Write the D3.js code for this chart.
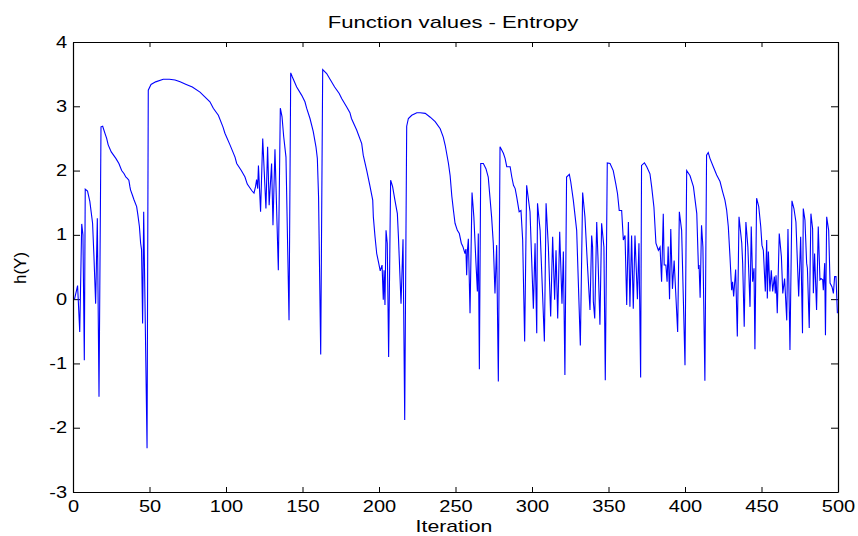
<!DOCTYPE html>
<html>
<head>
<meta charset="utf-8">
<script src="https://cdn.jsdelivr.net/npm/d3@7"></script>
<style>
  body { margin: 0; background: #fff; }
  svg { display: block; }
  text { font-family: "Liberation Sans", Arial, sans-serif; fill: #000; }
</style>
</head>
<body>
<svg id="chart" width="858" height="536"></svg>
<script>
// iteration number and h(Y) value
const iterations = [
  1, 3, 4.4, 5.7, 6.5, 7.4, 8, 9.5, 11, 12.8, 13.7, 14.8, 15.9, 17, 18.3, 19.4,
  21, 22, 23, 25, 28, 30, 31.8, 33.4, 34.5, 35.5, 36.5, 37.2, 37.6, 38.8, 39.8,
  41.6, 42.4, 43.4, 44.2, 44.8, 45.5, 46.2, 48.4, 49.2, 51, 54, 59, 63, 66.7,
  70, 74, 78, 83, 86, 89.5, 91.7, 95, 98, 99.3, 102.6, 105.9, 107, 110, 112.4,
  113.9, 116.8, 118.3, 119.3, 120, 120.7, 121.2, 122.6, 124, 126.1, 127.2,
  128.2, 129.8, 130.7, 132, 134.2, 135.5, 136.6, 137.7, 139.2, 141.2, 142.3,
  143.3, 146.2, 149.5, 151.6, 152.7, 154.9, 157, 158.8, 159.7, 160.5, 161.9,
  163.2, 165.8, 168, 171, 174, 175.6, 178.9, 181, 182, 185.4, 188.7, 189.7,
  192, 194, 195.9, 196.3, 197.4, 198.5, 199.8, 200.8, 202, 202.8, 203.3, 203.9,
  204.6, 205.4, 206.3, 207.6, 208.9, 210.4, 212, 212.7, 214.4, 215.7, 216.8,
  218.1, 219.2, 221.4, 224.7, 226.9, 230.2, 233.5, 236.7, 240, 242, 243.3,
  245.4, 246.5, 247.6, 248.6, 249.7, 251.2, 252.5, 253.8, 254.8, 256.2, 256.8,
  257.3, 257.8, 258.4, 259.5, 260.8, 262, 263.4, 264.3, 264.9, 265.6, 266.5,
  268.2, 269.9, 271.4, 272.5, 273.6, 274.7, 275.8, 276.9, 278, 279.1, 281.3,
  282.4, 283.5, 285.7, 286.8, 287.9, 289, 290, 291.6, 292.8, 293.9, 295.2,
  296.5, 298.7, 300.9, 302, 303.1, 303.6, 305.3, 308.1, 309.2, 310.7, 312.2,
  313.5, 314.8, 315.7, 316.8, 318.1, 319.6, 320.5, 321.5, 322.6, 324.4, 325.3,
  327, 329.2, 331.6, 333.1, 334.6, 336.2, 337.9, 339, 339.6, 340.1, 341, 342.3,
  343.1, 344.4, 345.5, 347, 347.9, 349.2, 351, 353.1, 354.8, 355.9, 357, 358.6,
  359.7, 360.8, 361.9, 363, 364, 365.1, 366.2, 367.3, 368.9, 369.9, 371, 371.6,
  373.5, 375, 377.1, 378.2, 379.7, 381, 382.6, 383.7, 384.7, 385.8, 386.4,
  387.5, 388.3, 389, 389.9, 390.7, 391.8, 392.9, 395.2, 396.3, 397.8, 400,
  401.1, 403.3, 405.5, 407.7, 408.8, 409.2, 409.9, 410.8, 411.7, 413, 414.1,
  415.2, 416.3, 418.5, 420.7, 422.9, 424.6, 426.1, 427.2, 428.3, 429.4, 430.5,
  431.1, 431.8, 433.1, 434.2, 435.3, 437.1, 437.7, 438.7, 439.8, 441.1, 442.5,
  443.3, 444.2, 445.1, 445.7, 446.8, 448.2, 449.5, 450.3, 451.2, 452.5, 453.4,
  453.8, 454.5, 455.5, 456.4, 457.3, 458.4, 459, 459.5, 460.3, 461.6, 463,
  463.9, 465.1, 466.5, 467.3, 468.6, 469.9, 471.2, 472.5, 474.3, 475.6, 476.8,
  477.3, 478.4, 479.5, 480, 481.2, 482.3, 483.4, 483.9, 484.7, 486, 487.1,
  488.2, 488.9, 490, 490.4, 491.3, 491.8, 492.6, 493.9, 494.8, 496.1, 497,
  497.8, 498.7, 499.6
];

const hY = [
  0.0, 0.21, -0.51, 1.17, 1.0, -0.95, 1.71, 1.68, 1.52, 1.18, 0.66, -0.07, 1.26, -1.52, 2.68, 2.69,
  2.57, 2.5, 2.4, 2.29, 2.19, 2.11, 2.0, 1.95, 1.9, 1.88, 1.85, 1.75, 1.7, 1.62, 1.55,
  1.44, 1.31, 1.13, 0.87, 0.77, -0.38, 1.36, -2.32, 3.25, 3.34, 3.38, 3.42, 3.42, 3.41,
  3.38, 3.34, 3.3, 3.22, 3.15, 3.07, 2.97, 2.86, 2.68, 2.58, 2.4, 2.21, 2.11, 2.0, 1.9,
  1.79, 1.69, 1.65, 1.75, 1.86, 1.72, 2.08, 1.36, 2.5, 1.41, 2.37,
  1.46, 2.11, 1.15, 2.33, 0.45, 2.97, 2.84, 2.53, 2.21, -0.33, 3.52,
  3.46, 3.3, 3.17, 3.07, 2.97, 2.81, 2.61, 2.37, 2.19, 1.59, -0.86,
  3.57, 3.51, 3.42, 3.3, 3.2, 3.12, 2.99, 2.9, 2.81, 2.63, 2.42, 2.24,
  2.0, 1.77, 1.54, 1.28, 0.97, 0.71, 0.56, 0.44, 0.53, -0.01, 0.45, -0.09,
  1.07, 0.87, -0.9, 1.85, 1.75, 1.54, 1.33, 0.97, -0.07, 0.93, -1.88,
  2.69, 2.81, 2.86, 2.9, 2.9, 2.89, 2.83, 2.76, 2.65, 2.52, 2.39,
  2.11, 1.92, 1.6, 1.39, 1.18, 1.07, 1.02, 0.87, 0.82, 0.71, 0.78,
  0.37, 0.76, 0.94, -0.22, 1.66, 1.28, 0.55, 0.12, 1.02, -1.09, 2.11,
  2.11, 2.03, 1.9, 1.59, 1.28, 0.87, 0.09, 0.84, -1.28, 2.37, 2.27,
  2.19, 2.06, 2.06, 1.9, 1.77, 1.72, 1.59, 1.36, 1.38, 0.92, -0.66,
  1.77, 1.36, -0.15, 0.87, -0.53, 1.49, 1.07, -0.66, 1.49, 0.81, -0.27,
  0.97, -0.01, 0.76, -0.3, 1.05, -0.07, 0.74, -1.18, 1.9, 1.94, 1.83,
  1.54, 1.07, -0.72, 1.66, 1.28, 0.55, -0.17, 0.99, 0.81, -0.04, -0.3, 1.2,
  0.66, -0.4, 1.18, 0.81, -1.26, 2.12, 2.11, 2.0, 1.79, 1.64, 1.38, 1.38,
  0.92, 0.99, -0.09, 1.2, -0.12, 0.99, -0.15, 0.99, 0.0, 0.87, -1.22, 2.08,
  2.12, 2.06, 1.95, 1.75, 1.43, 0.87, 0.76, 0.81, 0.27, 1.33, 0.53,
  0.53, 0.27, 0.82, 0.0, 1.09, 0.16, 0.6, -0.51, 1.36, 1.07, -1.03,
  2.0, 1.92, 1.75, 1.33, 0.47, 0.53, 0.02, 1.15, 0.81, -1.27, 2.24,
  2.28, 2.19, 2.06, 1.93, 1.83, 1.67, 1.54, 1.39, 1.13, 0.66, 0.14,
  0.27, 0.04, 0.46, -0.58, 1.28, 0.87, 0.55, -0.43, 1.2, 0.81, -0.12,
  1.13, 0.27, 0.48, -0.78, 1.57, 1.44, 1.13, 0.84, 0.76, 0.12, 0.92,
  0.01, 0.74, 0.12, 0.45, 0.12, 0.35, 0.09, 0.37, -0.22, 1.02, 0.66,
  0.09, 0.32, -0.33, 1.09, -0.79, 1.53, 1.41, 1.2, 0.04, 0.97, -0.53,
  1.41, 1.23, 0.56, 0.48, -0.45, 1.33, 1.1, 0.09, 0.71, -0.17, 1.13,
  0.3, 0.32, 0.3, 0.14, 0.56, -0.56, 1.28, 1.07, 0.25, 0.19, 0.09,
  0.35, 0.35, -0.22
];

const xTicks = [0, 50, 100, 150, 200, 250, 300, 350, 400, 450, 500];
const yTicks = [-3, -2, -1, 0, 1, 2, 3, 4];

const titleText = "Function values - Entropy";
const xLabel = "Iteration";
const yLabel = "h(Y)";

const data = iterations.map((d, i) => ({ it: d, v: hY[i] }));

const svg = d3.select("#chart");
const margin = { top: 42, right: 20, bottom: 44, left: 73 };
const fullWidth = +svg.attr("width");
const fullHeight = +svg.attr("height");
const width = fullWidth - margin.left - margin.right;
const height = fullHeight - margin.top - margin.bottom;

// the source figure was widened, so text glyphs are stretched sideways
const stretchX = 1.25;
function stretch(sel, k){
  sel.each(function(){
    const w = this.getComputedTextLength();
    d3.select(this)
      .attr("textLength", w * k)
      .attr("lengthAdjust", "spacingAndGlyphs");
  });
}

// plain hyphen minus, no decimals, like the original figure
const plainFormat = d => String(d);

const x = d3.scaleLinear().domain([0, 500]).range([0, width]);
const y = d3.scaleLinear().domain([-3, 4]).range([height, 0]);

const chart = svg.append("g")
  .attr("transform", `translate(${margin.left},${margin.top})`);

const xAxis = chart.append("g")
  .attr("transform", `translate(0,${height})`)
  .call(d3.axisBottom(x).tickValues(xTicks).tickFormat(plainFormat)
    .tickSizeInner(-5).tickSizeOuter(0).tickPadding(9));

const xAxisTop = chart.append("g")
  .call(d3.axisTop(x).tickValues(xTicks).tickSizeInner(-5).tickSizeOuter(0).tickFormat(""));

const yAxis = chart.append("g")
  .call(d3.axisLeft(y).tickValues(yTicks).tickFormat(plainFormat)
    .tickSizeInner(-7).tickSizeOuter(0).tickPadding(6));

const yAxisRight = chart.append("g")
  .attr("transform", `translate(${width},0)`)
  .call(d3.axisRight(y).tickValues(yTicks).tickSizeInner(-7).tickSizeOuter(0).tickFormat(""));

[xAxis, xAxisTop, yAxis, yAxisRight].forEach(a => {
  a.select(".domain").style("stroke", "#000").style("stroke-width", 1.2);
  a.selectAll(".tick line").style("stroke", "#000").style("stroke-width", 1);
  a.selectAll("text")
    .style("font-family", '"Liberation Sans", Arial, sans-serif')
    .style("font-size", "16px")
    .style("fill", "#000");
});

stretch(xAxis.selectAll(".tick text"), stretchX);
stretch(yAxis.selectAll(".tick text"), stretchX);

const line = d3.line()
  .x(d => x(d.it))
  .y(d => y(d.v));

chart.append("path")
  .datum(data)
  .attr("fill", "none")
  .attr("stroke", "#0000ff")
  .attr("stroke-width", 1.1)
  .attr("stroke-linejoin", "miter")
  .attr("d", line);

svg.append("text")
  .attr("x", 453)
  .attr("y", 28)
  .attr("text-anchor", "middle")
  .style("font-size", "17px")
  .text(titleText)
  .call(stretch, 1.3);

svg.append("text")
  .attr("x", 454)
  .attr("y", 532)
  .attr("text-anchor", "middle")
  .style("font-size", "17px")
  .text(xLabel)
  .call(stretch, stretchX);

svg.append("text")
  .attr("transform", "translate(26,268) rotate(-90)")
  .attr("text-anchor", "middle")
  .style("font-size", "17px")
  .text(yLabel);
</script>
</body>
</html>
